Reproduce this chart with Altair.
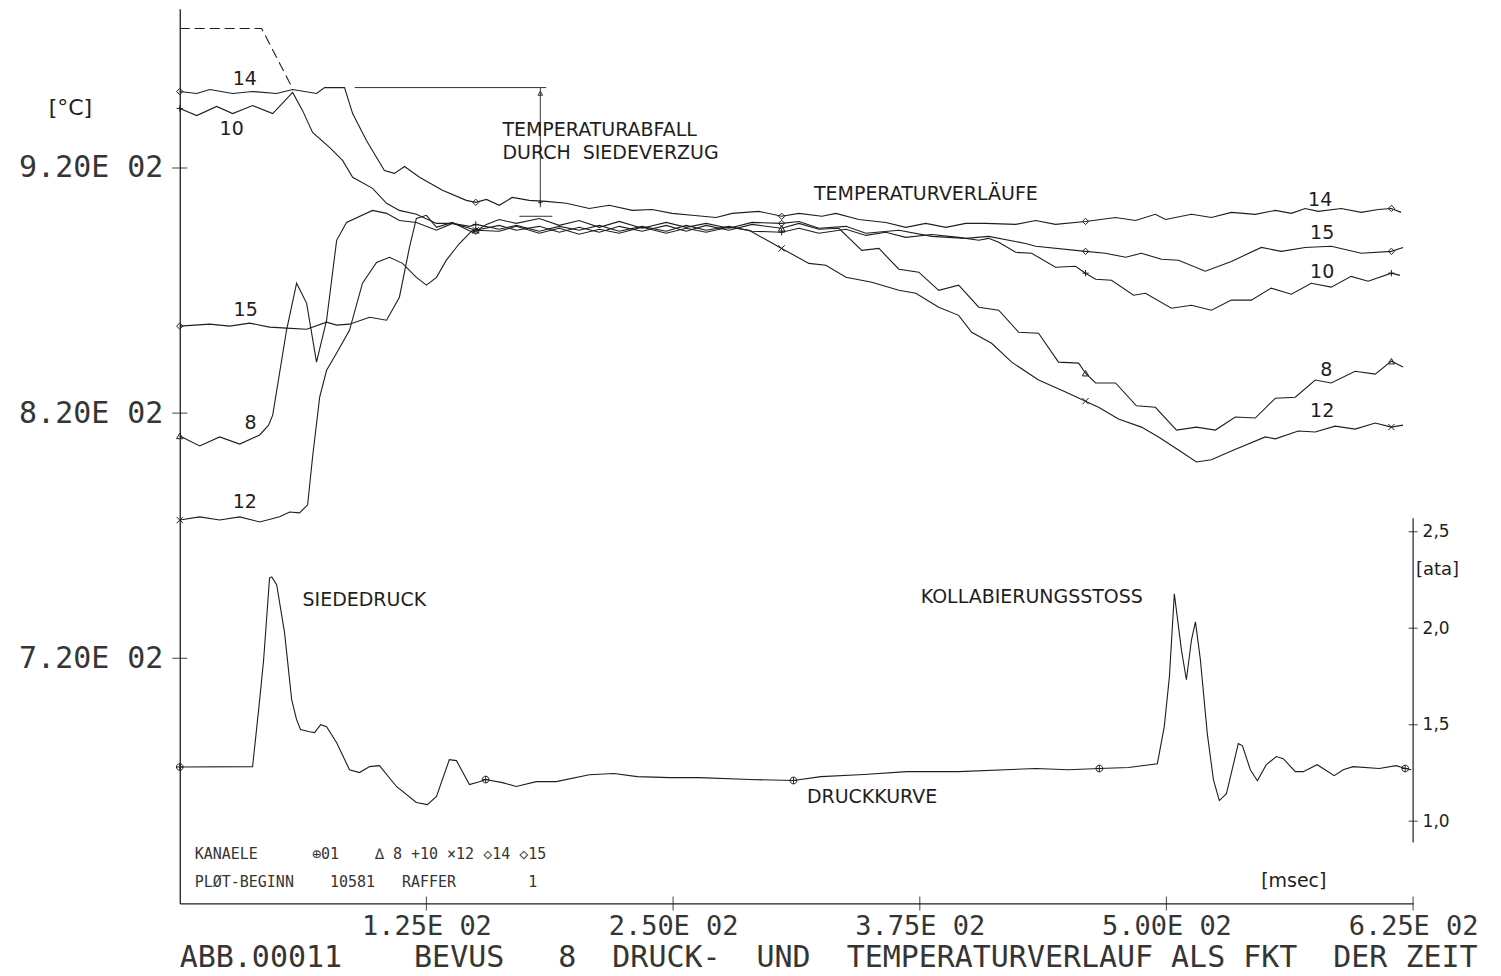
import altair as alt
import pandas as pd

MONO = "DejaVu Sans Mono"
SANS = "DejaVu Sans"
INK = "#1e1e1e"
TXT = "#353535"
NB = "\u00a0"

# ---------------- axis ranges / ticks ----------------
X_DOMAIN = [0, 625]          # msec
T_DOMAIN = [620, 985]        # deg C
P_DOMAIN = [0.574, 5.21]     # ata

x_tick_values = [125, 250, 375, 500, 625]
x_tick_labels = ["1.25E 02", "2.50E 02", "3.75E 02", "5.00E 02", "6.25E 02"]
t_tick_values = [720, 820, 920]
t_tick_labels = ["7.20E 02", "8.20E 02", "9.20E 02"]
p_tick_values = [1.0, 1.5, 2.0, 2.5]

temp_marker_times = [0, 150, 305, 459, 614]
press_marker_times = [0, 155, 311, 466, 621]

# ---------------- temperature channels (msec, deg C) ----------------
ch14 = [(0, 951.2), (8.6, 950.4), (15.2, 952.0), (26.8, 950.4), (36.9, 951.2), (49.1, 950.4),
        (57.2, 952.0), (69.3, 950.4), (73.4, 952.8), (83.5, 952.8), (87.6, 942.2), (94.6, 931.2),
        (103.7, 919.0), (108.8, 917.8), (113.9, 920.6), (121.5, 916.2), (133.1, 910.9), (145.2, 906.8),
        (150, 906.0), (155.4, 907.2), (161.9, 904.8), (168.5, 908.0), (177.1, 906.8), (185.7, 906.4),
        (195.9, 905.6), (207.5, 903.5), (217.6, 904.8), (229.3, 902.7), (239.4, 903.1), (249.5, 901.5),
        (259.6, 900.7), (271.8, 899.8), (279.9, 901.5), (293.5, 902.3), (305, 900.3), (313.8, 901.5),
        (325.4, 900.3), (332.5, 901.5), (344.1, 899.0), (357.8, 897.8), (367.9, 895.8), (378.0, 897.4),
        (388.2, 895.8), (398.3, 897.4), (408.4, 897.4), (423.6, 897.0), (433.7, 898.6), (443.8, 897.0),
        (459, 898.2), (474.2, 899.8), (484.3, 898.6), (494.4, 901.1), (499.5, 899.0), (512.7, 901.1),
        (522.8, 899.8), (532.9, 901.9), (545.0, 901.1), (555.2, 902.7), (563.3, 901.5), (570.3, 903.5),
        (576.9, 902.3), (588.6, 903.5), (598.7, 901.9), (607.3, 903.1), (614, 903.5), (618.9, 901.9)]

ch10 = [(0, 944.3), (8.6, 941.4), (18.7, 945.1), (26.8, 942.2), (36.9, 945.5), (47.1, 942.2),
        (57.2, 950.8), (62.2, 943.5), (67.3, 934.5), (75.9, 928.4), (82.5, 923.1), (87.6, 916.2),
        (97.7, 911.7), (104.8, 905.6), (111.3, 902.7), (119.9, 901.1), (130.1, 897.4), (138.2, 897.4),
        (146.8, 896.2), (150, 897.0), (161.9, 895.0), (170.5, 896.6), (182.2, 894.2), (192.3, 896.2),
        (202.4, 894.6), (212.6, 896.6), (222.7, 894.2), (234.3, 896.2), (246.5, 894.2), (256.6, 896.6),
        (266.7, 894.6), (278.3, 896.2), (290.0, 894.2), (305, 893.8), (313.8, 895.4), (323.9, 893.4),
        (337.6, 895.0), (347.7, 892.5), (357.8, 893.8), (367.9, 891.7), (381.1, 892.9), (394.7, 891.7),
        (404.9, 890.5), (409.9, 891.3), (415.0, 889.7), (423.6, 885.6), (431.7, 885.2), (443.8, 879.5),
        (453.9, 879.9), (459, 877.1), (464.1, 874.6), (472.2, 874.2), (483.3, 868.1), (489.4, 868.9),
        (502.5, 862.8), (512.7, 864.0), (522.8, 862.0), (532.9, 866.1), (543.0, 866.1), (553.1, 871.0),
        (563.3, 868.5), (573.4, 873.0), (583.5, 871.4), (593.6, 875.8), (602.2, 873.8), (614, 877.1),
        (618.4, 876.2)]

ch15 = [(0, 855.5), (15.2, 856.3), (25.3, 855.5), (35.4, 856.7), (45.5, 855.1), (54.1, 854.7),
        (64.3, 854.2), (74.4, 857.1), (79.5, 855.9), (86.0, 856.3), (96.2, 859.1), (104.8, 857.9),
        (111.3, 867.3), (116.4, 887.6), (119.9, 899.4), (125.0, 900.7), (130.1, 895.8), (138.2, 897.8),
        (148.3, 893.8), (150, 894.2), (155.4, 897.0), (161.9, 899.0), (170.5, 897.4), (182.2, 899.4),
        (192.3, 896.6), (202.4, 898.6), (212.6, 895.8), (222.7, 898.2), (234.3, 895.4), (246.5, 897.8),
        (256.6, 895.8), (266.7, 897.4), (278.3, 895.4), (290.0, 897.8), (305, 897.4), (313.8, 898.2),
        (323.9, 895.4), (337.6, 896.2), (347.7, 893.4), (364.4, 894.6), (381.1, 892.1), (398.3, 891.3),
        (409.9, 892.1), (428.6, 889.2), (433.7, 888.1), (459, 886.0), (469.1, 885.2), (479.3, 883.6),
        (487.3, 885.2), (497.5, 882.8), (506.1, 882.4), (519.7, 877.9), (532.9, 881.9), (548.1, 887.6),
        (558.2, 886.0), (570.3, 887.6), (583.5, 888.1), (598.7, 885.2), (614, 886.0), (619.9, 887.6)]

ch8 = [(0, 810.7), (10.1, 806.6), (20.2, 810.3), (30.4, 807.4), (40.5, 811.1), (45.0, 815.1),
       (47.1, 819.2), (54.1, 853.8), (59.2, 873.0), (64.3, 864.8), (69.3, 840.8), (74.4, 857.9),
       (79.5, 890.5), (84.5, 897.8), (97.7, 902.7), (104.8, 901.5), (111.3, 898.6), (119.9, 897.8),
       (130.1, 894.6), (138.2, 897.4), (145.2, 895.8), (150, 894.6), (161.9, 896.6), (170.5, 894.6),
       (182.2, 896.2), (192.3, 893.8), (202.4, 895.8), (212.6, 893.8), (222.7, 896.2), (234.3, 894.2),
       (246.5, 896.6), (256.6, 894.2), (266.7, 896.6), (278.3, 894.6), (290.0, 897.0), (305, 895.4),
       (313.8, 897.4), (323.9, 895.0), (334.0, 895.4), (345.6, 886.4), (354.3, 887.2), (364.4, 878.7),
       (374.5, 877.5), (384.6, 870.1), (394.7, 872.2), (404.9, 863.2), (415.0, 862.0), (425.1, 853.0),
       (435.2, 852.6), (445.3, 840.8), (455.5, 840.4), (459, 836.3), (464.1, 832.3), (474.2, 832.3),
       (484.8, 823.0), (494.4, 822.4), (505.1, 813.1), (515.2, 814.3), (524.8, 813.1), (534.9, 818.4),
       (545.0, 818.0), (555.2, 826.1), (565.3, 826.5), (575.4, 833.5), (583.5, 832.3), (595.6, 837.1),
       (605.8, 835.9), (614, 841.2), (619.9, 838.8)]

ch12 = [(0, 776.4), (10.1, 777.7), (20.2, 776.4), (30.4, 777.7), (40.5, 775.6), (50.6, 777.7),
        (55.7, 779.7), (60.7, 779.3), (64.8, 782.6), (67.3, 802.1), (70.9, 826.5), (74.4, 837.5),
        (79.5, 844.5), (86.0, 853.8), (92.6, 873.0), (99.7, 881.5), (106.3, 883.6), (112.9, 881.1),
        (119.9, 875.4), (125.0, 872.2), (130.1, 875.4), (135.1, 882.4), (141.7, 889.2), (148.3, 894.6),
        (150, 894.6), (161.9, 894.2), (170.5, 896.2), (182.2, 893.4), (192.3, 895.4), (202.4, 893.0),
        (212.6, 895.0), (222.7, 893.4), (234.3, 895.8), (246.5, 893.4), (256.6, 895.4), (266.7, 893.8),
        (278.3, 895.8), (288.5, 894.6), (305, 887.2), (318.8, 881.1), (327.4, 880.3), (337.6, 875.4),
        (350.7, 873.4), (364.4, 870.1), (373.0, 868.9), (384.6, 863.2), (394.7, 859.9), (401.3, 853.0),
        (411.4, 848.5), (421.6, 840.8), (435.2, 833.5), (448.9, 828.6), (459, 824.9), (465.6, 822.4),
        (475.7, 817.6), (487.3, 814.3), (496.0, 810.3), (506.1, 805.0), (515.2, 800.1), (522.8, 801.0),
        (532.9, 804.6), (550.1, 810.3), (555.2, 809.5), (566.8, 812.7), (575.4, 812.3), (585.5, 814.7),
        (595.6, 813.5), (605.8, 816.0), (614, 814.3), (619.9, 815.1)]

# ---------------- pressure channel 01 (msec, ata) ----------------
druck = [(0, 1.281), (36.9, 1.283), (40.5, 1.630), (42.5, 1.837), (45.5, 2.261), (46.6, 2.266),
         (49.1, 2.225), (53.1, 1.977), (56.7, 1.630), (59.2, 1.526), (61.2, 1.475), (65.8, 1.464),
         (68.3, 1.459), (71.4, 1.500), (74.4, 1.490), (79.5, 1.407), (86.0, 1.267), (91.1, 1.252),
         (96.2, 1.283), (101.2, 1.288), (109.8, 1.180), (119.9, 1.097), (125.5, 1.086), (130.1, 1.128),
         (136.6, 1.319), (140.2, 1.314), (146.8, 1.190), (151.8, 1.205), (155, 1.216), (163.5, 1.200),
         (170.5, 1.180), (180.7, 1.205), (190.8, 1.205), (207.5, 1.241), (220.1, 1.247), (231.8, 1.231),
         (248.5, 1.226), (263.2, 1.226), (289.0, 1.216), (311, 1.211), (324.9, 1.231), (346.7, 1.242),
         (368.4, 1.257), (394.7, 1.257), (433.7, 1.273), (450.4, 1.267), (466, 1.273), (480.8, 1.278),
         (495.4, 1.298), (498.9, 1.490), (501.5, 1.748), (504.0, 2.178), (507.6, 1.888), (510.1, 1.733),
         (512.7, 1.940), (514.7, 2.033), (517.2, 1.837), (520.7, 1.454), (523.8, 1.216), (526.8, 1.107),
         (530.4, 1.143), (533.9, 1.293), (536.4, 1.402), (538.5, 1.392), (542.5, 1.267), (546.1, 1.210),
         (550.6, 1.293), (555.7, 1.335), (559.2, 1.324), (565.3, 1.257), (569.3, 1.257), (576.4, 1.293),
         (585.0, 1.236), (589.6, 1.267), (594.6, 1.283), (607.8, 1.273), (616.4, 1.288), (621, 1.273),
         (624.0, 1.267)]

# dashed reference line (msec, deg C)
dash_ref = [(0, 976.9), (41.5, 976.9), (57.2, 952.4)]

# curve numbers (label, msec, deg C)
curve_numbers = [("14", 32.9, 956.5), ("10", 26.3, 936.1), ("15", 33.4, 862.0), ("8", 35.9, 816.0),
                 ("12", 32.9, 783.8), ("14", 577.9, 906.8), ("15", 578.9, 893.4), ("10", 578.9, 877.5),
                 ("8", 581.0, 837.5), ("12", 578.9, 820.8)]

temp_notes = [("TEMPERATURABFALL", 163.5, 935.3), ("DURCH" + NB + NB + "SIEDEVERZUG", 163.5, 926.3),
              ("TEMPERATURVERLÄUFE", 321.4, 909.2)]
press_notes = [("SIEDEDRUCK", 62.2, 2.147), ("KOLLABIERUNGSSTOSS", 375.5, 2.163), ("DRUCKKURVE", 317.8, 1.123)]

# dimension lines of the "Temperaturabfall" annotation (t, t2, T, T2)
dim_lines = [(88.6, 185.7, 952.8, 952.8), (182.7, 182.7, 952.8, 904.0), (172.1, 188.8, 900.3, 900.3)]
dim_arrows = [("up", 182.7, 950.5), ("down", 182.7, 906.0)]

legend_lines = [
    ("KANAELE" + NB * 6 + "⊕01" + NB * 4 + "∆ 8 +10 ×12 ◇14 ◇15", 7.6, 640.0),
    ("PLØT-BEGINN" + NB * 4 + "10581" + NB * 3 + "RAFFER" + NB * 8 + "1", 7.6, 628.6),
]

title_text = ("ABB.00011" + NB * 4 + "BEVUS" + NB * 3 + "8" + NB * 2 + "DRUCK-" + NB * 2 + "UND" +
              NB * 2 + "TEMPERATURVERLAUF ALS FKT" + NB * 2 + "DER ZEIT")


# ---------------- helpers ----------------
def label_expr(values, labels):
    expr = "''"
    for v, lab in zip(values, labels):
        expr = f"datum.value == {v} ? '{lab}' : " + expr
    return expr


xaxis = alt.Axis(values=x_tick_values, labelExpr=label_expr(x_tick_values, x_tick_labels),
                 ticks=False, tickSize=0, grid=False, domainColor=INK, domainWidth=1.3,
                 labelFont=MONO, labelFontSize=27, labelColor=TXT, labelPadding=10,
                 labelFlush=False, labelOverlap=False,
                 title="[msec]", titleFont=SANS, titleFontSize=19, titleFontWeight="normal",
                 titleColor=INK, titleX=1115, titleY=-23, titleAngle=0, titleAlign="center",
                 titleBaseline="middle")
taxis = alt.Axis(values=t_tick_values, labelExpr=label_expr(t_tick_values, t_tick_labels),
                 ticks=False, tickSize=0, grid=False, domainColor=INK, domainWidth=1.3,
                 labelFont=MONO, labelFontSize=30, labelColor=TXT, labelPadding=17,
                 labelFlush=False, labelOverlap=False,
                 title="[°C]", titleFont=SANS, titleFontSize=22, titleFontWeight="normal",
                 titleColor=INK, titleAngle=0, titleX=-110, titleY=99, titleAlign="center",
                 titleBaseline="middle")
paxis = alt.Axis(orient="right", values=p_tick_values,
                 labelExpr="replace(format(datum.value, '.1f'), '.', ',')",
                 ticks=False, tickSize=0, domain=False, grid=False,
                 labelFont=SANS, labelFontSize=17, labelColor=INK, labelPadding=9,
                 labelFlush=False, labelOverlap=False,
                 title="[ata]", titleFont=SANS, titleFontSize=18, titleFontWeight="normal",
                 titleColor=INK, titleAngle=0, titleX=24, titleY=562, titleAlign="center",
                 titleBaseline="middle")

xscale = alt.Scale(domain=X_DOMAIN, nice=False, zero=False)
tscale = alt.Scale(domain=T_DOMAIN, nice=False, zero=False)
pscale = alt.Scale(domain=P_DOMAIN, nice=False, zero=False)

X = alt.X("t:Q", scale=xscale, axis=xaxis)
YT = alt.Y("T:Q", scale=tscale, axis=taxis)
YP = alt.Y("P:Q", scale=pscale, axis=paxis)

# ---------------- data frames ----------------
rows = []
for ch, pts in [("8", ch8), ("10", ch10), ("12", ch12), ("14", ch14), ("15", ch15)]:
    for i, (t, v) in enumerate(pts):
        rows.append({"ch": ch, "t": t, "T": v, "i": i})
temp_df = pd.DataFrame(rows)
temp_mark_df = temp_df[temp_df["t"].isin(temp_marker_times)]

press_df = pd.DataFrame([{"t": t, "P": p, "i": i} for i, (t, p) in enumerate(druck)])
press_mark_df = press_df[press_df["t"].isin(press_marker_times)]

dash_df = pd.DataFrame([{"t": t, "T": v, "i": i} for i, (t, v) in enumerate(dash_ref)])
num_df = pd.DataFrame([{"label": l, "t": t, "T": v} for l, t, v in curve_numbers])
tnote_df = pd.DataFrame([{"label": l, "t": t, "T": v} for l, t, v in temp_notes])
pnote_df = pd.DataFrame([{"label": l, "t": t, "P": v} for l, t, v in press_notes])
dim_df = pd.DataFrame([{"t": a, "t2": b, "T": c, "T2": d} for a, b, c, d in dim_lines])
arrow_df = pd.DataFrame([{"dir": d, "t": t, "T": v} for d, t, v in dim_arrows])
legend_df = pd.DataFrame([{"label": l, "t": t, "T": v} for l, t, v in legend_lines])
lt_df = pd.DataFrame({"t": [X_DOMAIN[0]] * len(t_tick_values), "T": t_tick_values})
xt_df = pd.DataFrame({"t": x_tick_values, "T": [T_DOMAIN[0]] * len(x_tick_values)})
pt_df = pd.DataFrame({"t": [X_DOMAIN[1]] * len(p_tick_values), "P": p_tick_values})
prule_df = pd.DataFrame({"t": [X_DOMAIN[1]], "P": [0.89], "P2": [2.57]})

shape_domain = ["8", "10", "12", "14", "15"]
shape_range = ["triangle-up", "M-1,0L1,0M0,-1L0,1", "M-1,-1L1,1M-1,1L1,-1", "diamond",
               "M0,-1L1,0L0,1L-1,0Z"]

# ---------------- temperature layers ----------------
lines = alt.Chart(temp_df).mark_line(color=INK, strokeWidth=1.1).encode(
    x=X, y=YT, detail="ch:N", order="i:Q")
markers = alt.Chart(temp_mark_df).mark_point(filled=False, color=INK, strokeWidth=1, size=40, opacity=1).encode(
    x=X, y=YT, shape=alt.Shape("ch:N", scale=alt.Scale(domain=shape_domain, range=shape_range), legend=None))
dash = alt.Chart(dash_df).mark_line(color=INK, strokeWidth=1.1, strokeDash=[10, 5]).encode(
    x=X, y=YT, order="i:Q")
numbers = alt.Chart(num_df).mark_text(font=SANS, fontSize=19, color=INK, align="center",
                                       baseline="middle").encode(x=X, y=YT, text="label:N")
tnotes = alt.Chart(tnote_df).mark_text(font=SANS, fontSize=19, color=INK, align="left",
                                        baseline="middle").encode(x=X, y=YT, text="label:N")
dims = alt.Chart(dim_df).mark_rule(color=INK, strokeWidth=0.9).encode(
    x=X, x2="t2:Q", y=YT, y2="T2:Q")
arrows = alt.Chart(arrow_df).mark_point(filled=False, color=INK, size=22, strokeWidth=0.9, opacity=1).encode(
    x=X, y=YT, shape=alt.Shape("dir:N", scale=alt.Scale(domain=["up", "down"],
                                                         range=["triangle-up", "triangle-down"]), legend=None))
legend_txt = alt.Chart(legend_df).mark_text(font=MONO, fontSize=15, color=TXT, align="left",
                                             baseline="middle").encode(x=X, y=YT, text="label:N")
left_ticks = alt.Chart(lt_df).mark_tick(orient="horizontal", size=15, thickness=1.2, color=INK).encode(x=X, y=YT)
bottom_ticks = alt.Chart(xt_df).mark_tick(orient="vertical", size=14, thickness=1.2, color=INK).encode(x=X, y=YT)

temp_layer = alt.layer(lines, dash, markers, numbers, tnotes, dims, arrows, legend_txt,
                       left_ticks, bottom_ticks)

# ---------------- pressure layers ----------------
pline = alt.Chart(press_df).mark_line(color=INK, strokeWidth=1.1).encode(x=X, y=YP, order="i:Q")
pmark = alt.Chart(press_mark_df).mark_point(
    filled=False, color=INK, size=45, strokeWidth=1, opacity=1,
    shape="M-1,0A1,1,0,1,1,1,0A1,1,0,1,1,-1,0ZM-1,0L1,0M0,-1L0,1").encode(x=X, y=YP)
pnotes = alt.Chart(pnote_df).mark_text(font=SANS, fontSize=19, color=INK, align="left",
                                        baseline="middle").encode(x=X, y=YP, text="label:N")
prule = alt.Chart(prule_df).mark_rule(color=INK, strokeWidth=1.2).encode(x=X, y=YP, y2="P2:Q")
pticks = alt.Chart(pt_df).mark_tick(orient="horizontal", size=9, thickness=1.2, color=INK).encode(x=X, y=YP)

press_layer = alt.layer(pline, pmark, pnotes, prule, pticks)

chart = alt.layer(temp_layer, press_layer).resolve_scale(y="independent").properties(
    width=1235, height=896,
    title=alt.TitleParams(text=title_text, orient="bottom", anchor="start", frame="group",
                          font=MONO, fontSize=30, fontWeight="normal", color=TXT, offset=1, dy=3),
    autosize=alt.AutoSizeParams(type="none"),
    padding={"left": 172, "top": 0, "right": 80, "bottom": 70},
).configure_view(stroke=None)

chart.save("out.html", embed_options={"renderer": "svg", "actions": False})
